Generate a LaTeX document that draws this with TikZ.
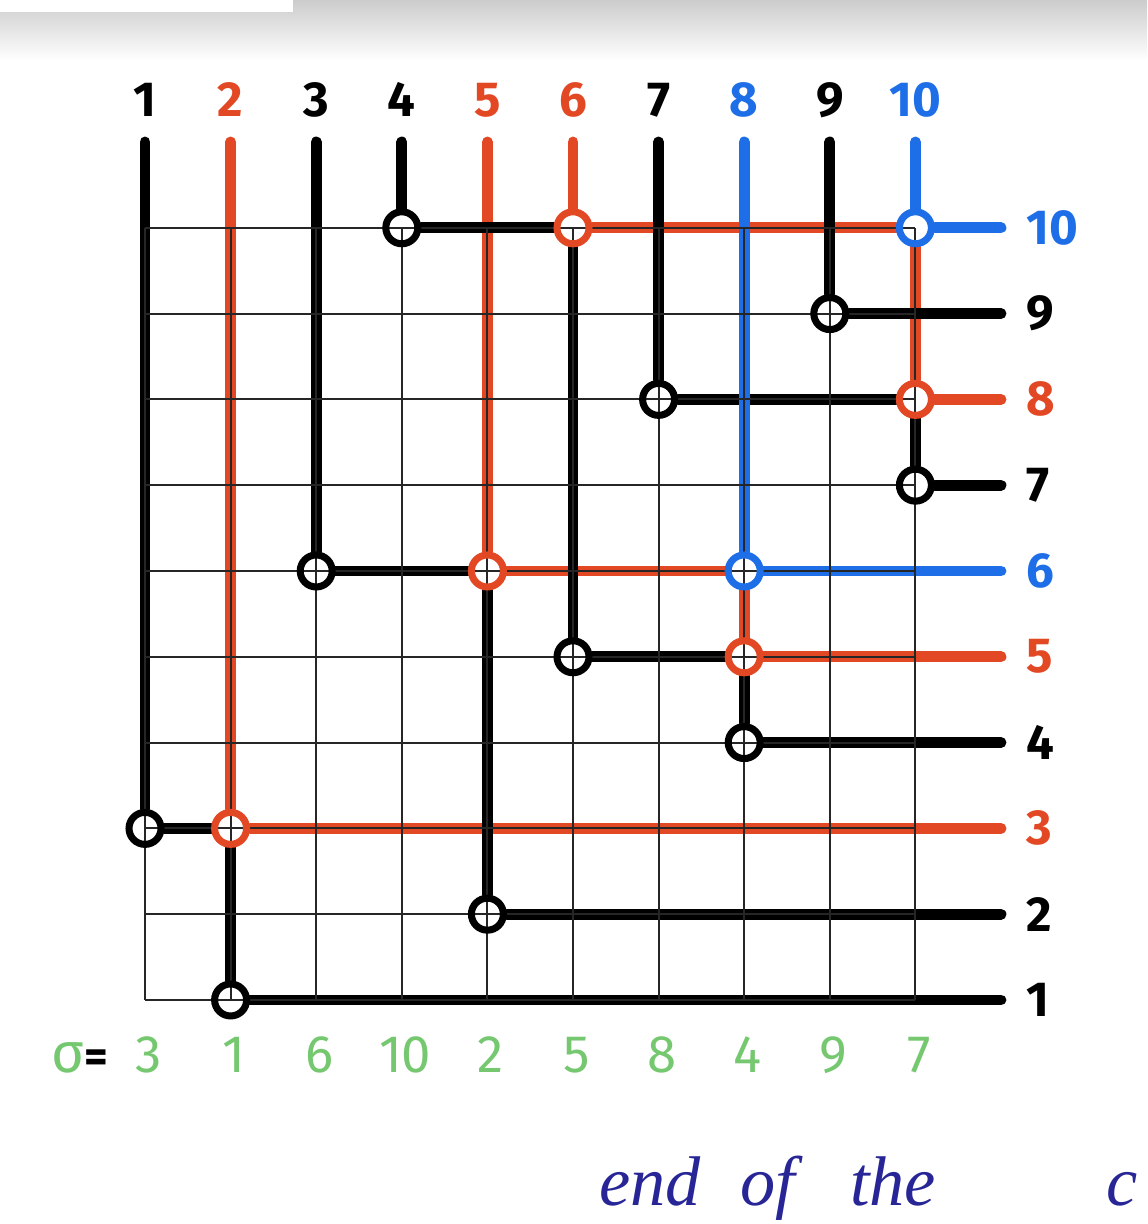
\documentclass[tikz,border=0pt]{standalone}
\usepackage{fontspec}
\setmainfont{Fira Sans}
\newfontfamily\inkfont{Liberation Serif}

\definecolor{penred}{RGB}{226,72,36}
\definecolor{penblue}{RGB}{30,110,232}
\definecolor{pengreen}{RGB}{118,200,112}
\definecolor{inkblue}{RGB}{40,38,150}

\pgfdeclarelayer{under}
\pgfsetlayers{under,main}

\begin{document}
\begin{tikzpicture}[
    x=1.712cm, y=1.716cm,
    font=\fontsize{28}{30}\selectfont,
    gridline/.style={line width=1.1pt, black!85},
    wire/.style={line width=6.2pt, line cap=round},
    bwire/.style={wire, black},
    rwire/.style={wire, penred},
    uwire/.style={wire, penblue},
    ring/.style={circle, draw, line width=4pt, minimum size=0.64cm, inner sep=0pt},
    lab/.style={inner sep=1pt, font=\fontsize{28}{30}\selectfont\bfseries}
]

% =========================================================
% 1) PAGE
% =========================================================
\useasboundingbox (-0.694,-1.611) rectangle (12.706,12.655);
\shade[top color=black!20, bottom color=white] (-0.694,12.655) rectangle (12.706,11.95);
\fill[white] (-0.694,12.655) rectangle (2.73,12.515);

% =========================================================
% 2) CROSSINGS (col-row)
% =========================================================
\node[ring] (k1-3) at (1,3) {};
\node[ring, penred] (k2-3) at (2,3) {};
\node[ring] (k2-1) at (2,1) {};
\node[ring] (k3-6) at (3,6) {};
\node[ring] (k4-10) at (4,10) {};
\node[ring, penred] (k5-6) at (5,6) {};
\node[ring] (k5-2) at (5,2) {};
\node[ring, penred] (k6-10) at (6,10) {};
\node[ring] (k6-5) at (6,5) {};
\node[ring] (k7-8) at (7,8) {};
\node[ring, penblue] (k8-6) at (8,6) {};
\node[ring, penred] (k8-5) at (8,5) {};
\node[ring] (k8-4) at (8,4) {};
\node[ring] (k9-9) at (9,9) {};
\node[ring, penblue] (k10-10) at (10,10) {};
\node[ring, penred] (k10-8) at (10,8) {};
\node[ring] (k10-7) at (10,7) {};

% free ends: column tops and row ends
\foreach \c in {1,...,10} \coordinate (t\c) at (\c,11);
\foreach \r in {1,...,10} \coordinate (e\r) at (11,\r);

\begin{pgfonlayer}{under}
% red paths
\draw[rwire] (t2) -- (k2-3);
\draw[rwire] (k2-3) -- (e3);
\draw[rwire] (t5) -- (k5-6);
\draw[rwire] (k5-6) -- (k8-6);
\draw[rwire] (t6) -- (k6-10);
\draw[rwire] (k6-10) -- (k10-10);
\draw[rwire] (k8-6) -- (k8-5);
\draw[rwire] (k8-5) -- (e5);
\draw[rwire] (k10-10) -- (k10-8);
\draw[rwire] (k10-8) -- (e8);

% black paths
\draw[bwire] (t1) -- (k1-3);
\draw[bwire] (k1-3) -- (k2-3);
\draw[bwire] (k2-3) -- (k2-1);
\draw[bwire] (k2-1) -- (e1);
\draw[bwire] (t3) -- (k3-6);
\draw[bwire] (k3-6) -- (k5-6);
\draw[bwire] (t4) -- (k4-10);
\draw[bwire] (k4-10) -- (k6-10);
\draw[bwire] (k5-6) -- (k5-2);
\draw[bwire] (k5-2) -- (e2);
\draw[bwire] (k6-10) -- (k6-5);
\draw[bwire] (k6-5) -- (k8-5);
\draw[bwire] (t7) -- (k7-8);
\draw[bwire] (k7-8) -- (k10-8);
\draw[bwire] (k8-5) -- (k8-4);
\draw[bwire] (k8-4) -- (e4);
\draw[bwire] (t9) -- (k9-9);
\draw[bwire] (k9-9) -- (e9);
\draw[bwire] (k10-8) -- (k10-7);
\draw[bwire] (k10-7) -- (e7);

% blue paths
\draw[uwire] (t8) -- (k8-6);
\draw[uwire] (k8-6) -- (e6);
\draw[uwire] (t10) -- (k10-10);
\draw[uwire] (k10-10) -- (e10);

% thin grid on top of the wires
\foreach \i in {1,...,10} {
  \draw[gridline] (\i,1) -- (\i,10);
  \draw[gridline] (1,\i) -- (10,\i);
}
\end{pgfonlayer}

% =========================================================
% 3) LABELS
% =========================================================
\foreach \c/\col in {1/black,2/penred,3/black,4/black,5/penred,6/penred,7/black,8/penblue,9/black,10/penblue}
  \node[lab, text=\col] (top\c) at (\c,11.49) {\c};

\foreach \r/\col in {10/penblue,9/black,8/penred,7/black,6/penblue,5/penred,4/black,3/penred,2/black,1/black}
  \node[lab, text=\col, anchor=west] (side\r) at (11.27,\r) {\r};

\node[inner sep=1pt, anchor=base east, font=\fontsize{32}{34}\selectfont] (sig) at (0.6,0.16)
{\textcolor{pengreen}{σ}\textbf{\fontsize{26}{28}\selectfont=}};
\foreach \c/\v in {1/3,2/1,3/6,4/10,5/2,6/5,7/8,8/4,9/9,10/7}
  \node[inner sep=1pt, text=pengreen, font=\fontsize{30}{32}\selectfont] (sg\c) at ({\c+0.04},0.36) {\v};

\node[anchor=base west, inner sep=0pt, text=inkblue, font=\inkfont\itshape\fontsize{40}{44}\selectfont] (note) at (6.3,-1.39)
{end\hspace{0.8cm}of\hspace{1.1cm}the\hspace{3.4cm}c};

\end{tikzpicture}
\end{document}
